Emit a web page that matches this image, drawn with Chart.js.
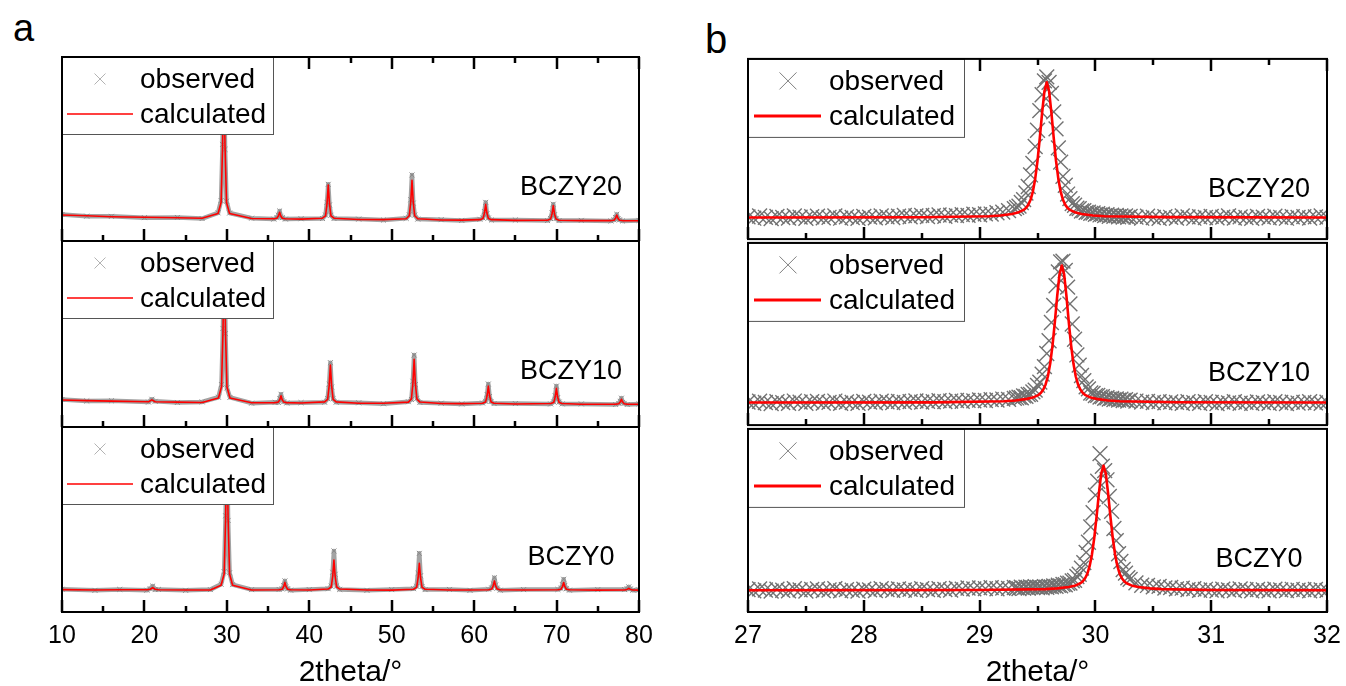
<!DOCTYPE html>
<html>
<head>
<meta charset="utf-8">
<script src="https://cdn.jsdelivr.net/npm/chart.js@4.4.1/dist/chart.umd.min.js"></script>
<style>
  html, body { margin: 0; padding: 0; background: #fff; overflow: hidden; width: 1346px; height: 686px; }
  canvas { position: absolute; }
  .tag { position: absolute; font-family: 'Liberation Sans', Arial, sans-serif; color: #000; line-height: 1; }
</style>
</head>
<body>
<div class="tag" style="left:13px; top:9px; font-size:38px;">a</div>
<div class="tag" style="left:705px; top:19px; font-size:40px;">b</div>
<canvas id="a20"></canvas>
<canvas id="a10"></canvas>
<canvas id="a0"></canvas>
<canvas id="b20"></canvas>
<canvas id="b10"></canvas>
<canvas id="b0"></canvas>
<script>
// axis ticks
const ticksA = [10, 20, 30, 40, 50, 60, 70, 80];
const minorA = [15, 25, 35, 45, 55, 65, 75];
const ticksB = [27, 28, 29, 30, 31, 32];
const minorB = [27.5, 28.5, 29.5, 30.5, 31.5];
const sampleNames = ['BCZY20', 'BCZY10', 'BCZY0'];

// panel a: full scans, intensity in % of each sub-plot height
const a20X = [10, 13, 16, 20, 24, 27, 28.93, 29.30, 29.48, 29.63, 29.78, 29.96, 30.33, 33, 35.7, 36.07, 36.25, 36.4, 36.55, 36.73, 37.1, 39, 41.6, 41.97, 42.15, 42.3, 42.45, 42.63, 43.0, 46, 49, 51.76, 52.13, 52.31, 52.46, 52.61, 52.79, 53.16, 56, 58.5, 60.7, 61.07, 61.25, 61.4, 61.55, 61.73, 62.1, 65, 68.9, 69.27, 69.45, 69.6, 69.75, 69.93, 70.3, 73, 76.6, 76.97, 77.15, 77.3, 77.45, 77.63, 78.0, 80];
const a20Calc = [14.1, 13.7, 13.2, 12.9, 12.6, 12.4, 14.9, 20.9, 50.9, 98, 50.9, 20.9, 14.9, 12.2, 12.1, 12.4, 13.6, 15.6, 13.6, 12.4, 12.1, 11.9, 12.4, 13.7, 20.2, 30.4, 20.2, 13.7, 12.4, 11.7, 11.6, 12.1, 13.7, 21.2, 33.0, 21.2, 13.7, 12.1, 11.4, 11.35, 11.6, 12.2, 15.2, 19.9, 15.2, 12.2, 11.6, 11.2, 11.3, 11.9, 14.7, 19.2, 14.7, 11.9, 11.3, 11.05, 11.1, 11.3, 12.4, 14.1, 12.4, 11.3, 11.1, 11.0];
const a20Obs = [14.4, 13.5, 13.4, 12.7, 12.8, 12.2, 15.3, 22.0, 52.5, 99, 49.8, 21.6, 15.2, 12.4, 11.9, 12.8, 14.0, 16.3, 13.2, 12.7, 11.9, 12.1, 12.2, 14.1, 21.0, 30.8, 19.6, 14.0, 12.2, 11.9, 11.4, 12.3, 14.2, 22.4, 35.9, 20.6, 14.1, 11.9, 11.6, 11.2, 11.8, 12.5, 16.0, 21.0, 14.8, 12.5, 11.4, 11.4, 11.1, 12.2, 15.3, 20.0, 14.3, 12.2, 11.1, 11.2, 10.9, 11.5, 12.8, 14.5, 12.1, 11.5, 10.9, 11.2];

const a10X = [10, 13, 16, 20.5, 20.9, 21.3, 24, 27, 28.98, 29.35, 29.53, 29.68, 29.83, 30.01, 30.38, 33, 35.87, 36.24, 36.42, 36.57, 36.72, 36.90, 37.27, 39, 41.86, 42.23, 42.41, 42.56, 42.71, 42.89, 43.26, 46, 49, 52.02, 52.39, 52.57, 52.72, 52.87, 53.05, 53.42, 56, 58.5, 61.02, 61.39, 61.57, 61.72, 61.87, 62.05, 62.42, 65, 69.28, 69.65, 69.83, 69.98, 70.13, 70.31, 70.68, 73, 77.17, 77.54, 77.72, 77.87, 78.02, 78.20, 78.57, 80];
const a10Calc = [14.5, 14.2, 13.9, 13.6, 14.6, 13.6, 13.4, 13.2, 15.6, 21.6, 51.3, 98, 51.3, 21.6, 15.6, 13.05, 13.1, 13.4, 14.7, 16.8, 14.7, 13.4, 13.1, 12.9, 13.5, 14.9, 22.1, 33.3, 22.1, 14.9, 13.5, 12.8, 12.75, 13.4, 15.1, 23.4, 36.4, 23.4, 15.1, 13.4, 12.6, 12.55, 12.8, 13.5, 16.8, 22.0, 16.8, 13.5, 12.8, 12.4, 12.6, 13.2, 16.1, 20.8, 16.1, 13.2, 12.6, 12.25, 12.3, 12.5, 13.4, 14.9, 13.4, 12.5, 12.3, 12.2];
const a10Obs = [14.8, 14.0, 14.1, 13.4, 14.9, 13.8, 13.2, 13.5, 16.0, 22.8, 53.0, 99, 50.2, 21.0, 15.9, 12.8, 13.3, 13.2, 15.2, 17.6, 14.4, 13.6, 12.9, 13.1, 13.3, 15.3, 23.0, 34.6, 21.5, 15.2, 13.3, 13.0, 12.5, 13.6, 14.8, 24.6, 38.7, 22.8, 15.4, 13.2, 12.8, 12.4, 12.9, 13.8, 17.5, 23.1, 16.4, 13.7, 12.6, 12.6, 12.4, 13.5, 16.8, 22.0, 15.8, 13.4, 12.4, 12.4, 12.1, 12.7, 13.8, 15.5, 13.2, 12.7, 12.1, 12.4];

const a0X = [10, 14, 17, 20.3, 20.7, 21.0, 21.3, 21.7, 25, 28, 29.30, 29.67, 29.85, 30.00, 30.15, 30.33, 30.70, 33, 36.34, 36.71, 36.89, 37.04, 37.19, 37.37, 37.74, 40, 42.29, 42.66, 42.84, 42.99, 43.14, 43.32, 43.69, 47, 50, 52.65, 53.02, 53.20, 53.35, 53.50, 53.68, 54.05, 57, 59.5, 61.76, 62.13, 62.31, 62.46, 62.61, 62.79, 63.16, 66, 70.16, 70.53, 70.71, 70.86, 71.01, 71.19, 71.56, 75, 78.26, 78.56, 78.76, 78.96, 79.26, 80];
const a0Calc = [12.1, 11.9, 12.0, 12.0, 12.3, 13.1, 12.3, 12.0, 11.9, 11.9, 14.5, 20.5, 50.6, 98, 50.6, 20.5, 14.5, 11.9, 12.0, 12.3, 13.7, 16.0, 13.7, 12.3, 12.0, 11.9, 12.4, 13.5, 19.2, 28.1, 19.2, 13.5, 12.4, 11.9, 11.85, 12.3, 13.3, 18.4, 26.3, 18.4, 13.3, 12.3, 11.9, 11.9, 12.0, 12.4, 14.1, 16.8, 14.1, 12.4, 12.0, 11.9, 12.0, 12.3, 13.7, 15.9, 13.7, 12.3, 12.0, 11.85, 11.9, 12.2, 12.8, 12.2, 11.9, 11.8];
const a0Obs = [12.3, 11.7, 12.2, 11.8, 12.6, 14.0, 12.1, 12.2, 11.7, 12.1, 15.0, 21.8, 52.0, 99, 49.5, 21.2, 14.8, 12.1, 12.2, 12.5, 14.3, 16.8, 13.4, 12.6, 11.8, 12.1, 12.6, 14.0, 21.5, 33.0, 20.4, 14.1, 12.2, 11.7, 12.1, 12.6, 13.9, 20.9, 31.7, 19.6, 13.8, 12.1, 12.2, 11.7, 12.3, 13.0, 15.3, 18.5, 14.6, 12.9, 11.8, 12.1, 12.2, 12.8, 14.8, 17.7, 14.4, 12.6, 11.8, 12.1, 12.1, 12.6, 13.6, 12.5, 11.8, 12.0];

// panel b: (110) peak region, observed points
const bObsX = [27.00, 27.05, 27.10, 27.15, 27.20, 27.25, 27.30, 27.35, 27.40, 27.45, 27.50, 27.55, 27.60, 27.65, 27.70, 27.75, 27.80, 27.85, 27.90, 27.95, 28.00, 28.05, 28.10, 28.15, 28.20, 28.25, 28.30, 28.35, 28.40, 28.45, 28.50, 28.55, 28.60, 28.65, 28.70, 28.75, 28.80, 28.85, 28.90, 28.95, 29.00, 29.05, 29.10, 29.15, 29.20, 29.25, 29.30,
  29.32, 29.34, 29.36, 29.38, 29.40, 29.42, 29.44, 29.46, 29.48, 29.50, 29.52, 29.54, 29.56, 29.58, 29.60, 29.62, 29.64, 29.66, 29.68, 29.70, 29.72, 29.74, 29.76, 29.78, 29.80, 29.82, 29.84, 29.86, 29.88, 29.90, 29.92, 29.94, 29.96, 29.98, 30.00, 30.02, 30.04, 30.06, 30.08, 30.10, 30.12, 30.14, 30.16, 30.18, 30.20, 30.22, 30.24, 30.26, 30.28, 30.30,
  30.35, 30.40, 30.45, 30.50, 30.55, 30.60, 30.65, 30.70, 30.75, 30.80, 30.85, 30.90, 30.95, 31.00, 31.05, 31.10, 31.15, 31.20, 31.25, 31.30, 31.35, 31.40, 31.45, 31.50, 31.55, 31.60, 31.65, 31.70, 31.75, 31.80, 31.85, 31.90, 31.95, 32.00];
const b20Obs = [12.3, 11.6, 12.8, 12.1, 11.4, 12.6, 12.0, 11.7, 12.9, 12.2, 11.5, 12.4, 12.7, 11.8, 12.1, 12.9, 11.6, 12.3, 12.0, 11.5, 12.6, 12.2, 11.8, 12.8, 12.4, 11.9, 12.7, 13.1, 12.3, 12.9, 13.2, 12.5, 13.0, 13.4, 12.7, 13.3, 13.0, 13.6, 13.2, 13.8, 13.5, 14.0, 13.9, 14.6, 15.0, 15.8, 16.9,
  17.6, 18.3, 20.3, 21.9, 25.6, 29.2, 35.6, 42.0, 51.4, 60.4, 71.3, 80.1, 87.8, 90.0, 87.0, 80.9, 70.6, 61.2, 50.6, 42.7, 34.8, 29.9, 25.0, 22.5, 19.7, 18.8, 17.1, 16.9, 15.6, 15.8, 14.8, 15.0, 14.3, 14.5, 13.7, 14.1, 13.4, 13.8, 13.0, 13.5, 12.7, 13.3, 12.6, 13.1, 12.4, 12.9, 12.2, 12.8, 12.1, 12.6,
  12.2, 11.6, 12.7, 12.0, 11.5, 12.5, 12.1, 11.7, 12.8, 12.3, 11.6, 12.4, 12.0, 12.6, 11.8, 12.2, 12.9, 11.7, 12.3, 12.0, 11.5, 12.6, 12.2, 11.8, 12.7, 12.1, 11.6, 12.4, 12.0, 12.5, 11.7, 12.3, 12.8, 12.1];
const b10Obs = [12.7, 12.0, 13.1, 12.4, 11.8, 12.9, 12.3, 12.0, 13.2, 12.6, 11.9, 12.8, 13.0, 12.1, 12.5, 13.2, 12.0, 12.7, 12.4, 11.9, 13.0, 12.6, 12.2, 13.1, 12.8, 12.3, 13.0, 12.5, 12.9, 13.3, 12.6, 13.1, 12.8, 13.4, 12.9, 13.2, 13.5, 13.0, 13.6, 13.3, 13.8, 13.5, 14.0, 13.8, 14.3, 14.1, 14.7,
  14.9, 15.3, 15.0, 16.0, 15.8, 16.8, 16.9, 18.2, 19.2, 21.8, 23.6, 28.0, 32.1, 39.3, 46.3, 56.3, 65.7, 76.5, 84.1, 89.6, 90.0, 84.9, 75.7, 66.5, 55.5, 47.1, 38.5, 32.9, 27.2, 24.4, 21.0, 19.9, 17.6, 17.4, 16.2, 16.3, 15.4, 15.6, 14.7, 15.0, 14.3, 14.7, 14.0, 14.4, 13.7, 14.2, 13.5, 13.9, 13.2, 13.7,
  13.2, 12.6, 13.0, 12.4, 12.9, 12.2, 12.7, 12.5, 11.9, 12.8, 12.3, 12.0, 12.9, 12.4, 11.8, 12.6, 12.2, 12.8, 12.0, 12.5, 11.9, 12.7, 12.3, 12.0, 12.8, 12.4, 11.8, 12.6, 12.1, 12.5, 12.9, 12.2, 11.9, 12.6];
const b0Obs = [12.2, 11.5, 12.6, 12.0, 11.4, 12.5, 11.9, 11.6, 12.7, 12.1, 11.4, 12.3, 12.6, 11.7, 12.0, 12.8, 11.5, 12.2, 11.9, 11.4, 12.5, 12.1, 11.7, 12.7, 12.3, 11.8, 12.6, 12.0, 12.4, 11.8, 12.7, 12.2, 11.9, 12.8, 12.3, 12.0, 12.9, 12.5, 13.1, 12.6, 13.2, 12.8, 13.3, 12.7, 13.1, 12.9, 13.4,
  13.2, 12.8, 13.5, 13.0, 13.6, 13.1, 13.7, 13.3, 13.9, 13.4, 13.6, 13.2, 13.9, 13.5, 14.0, 13.7, 14.3, 14.0, 14.6, 14.3, 15.0, 14.9, 15.7, 15.8, 17.0, 17.3, 19.4, 20.6, 24.0, 27.0, 32.6, 38.1, 46.4, 54.2, 63.8, 71.4, 86.5, 79.6, 77.2, 72.2, 63.1, 55.0, 45.6, 38.9, 31.8, 27.6, 23.2, 21.2, 18.7, 17.8,
  15.9, 14.6, 14.5, 13.7, 14.0, 13.1, 13.4, 12.6, 13.0, 12.2, 12.7, 11.9, 12.4, 12.0, 11.6, 12.5, 12.1, 11.7, 12.6, 12.2, 11.5, 12.3, 12.0, 11.6, 12.5, 12.1, 11.7, 12.4, 11.9, 12.2, 11.6, 12.3, 12.0, 11.8];

// panel b: calculated profiles
const b20CalcX = [27, 28.5, 29.08, 29.18, 29.28, 29.33, 29.38, 29.40, 29.42, 29.44, 29.46, 29.48, 29.50, 29.52, 29.54, 29.56, 29.58, 29.60, 29.62, 29.64, 29.66, 29.68, 29.70, 29.72, 29.74, 29.76, 29.78, 29.83, 29.88, 29.98, 30.08, 30.6, 32];
const b20Calc = [12.0, 12.1, 12.7, 13.1, 13.9, 14.7, 16.2, 17.3, 19.0, 21.8, 26.4, 33.4, 43.4, 56.2, 70.2, 82.1, 87.0, 82.1, 70.2, 56.2, 43.4, 33.4, 26.4, 21.8, 19.0, 17.3, 16.2, 14.7, 13.9, 13.1, 12.7, 12.2, 12.0];
const b10CalcX = [27, 28.6, 29.21, 29.31, 29.41, 29.46, 29.51, 29.53, 29.55, 29.57, 29.59, 29.61, 29.63, 29.65, 29.67, 29.69, 29.71, 29.73, 29.75, 29.77, 29.79, 29.81, 29.83, 29.85, 29.87, 29.89, 29.91, 29.96, 30.01, 30.11, 30.21, 30.7, 32];
const b10Calc = [12.4, 12.5, 13.1, 13.5, 14.4, 15.1, 16.6, 17.7, 19.5, 22.3, 26.8, 33.9, 43.9, 56.7, 70.8, 82.7, 87.6, 82.7, 70.8, 56.7, 43.9, 33.9, 26.8, 22.3, 19.5, 17.7, 16.6, 15.1, 14.4, 13.5, 13.1, 12.5, 12.4];
const b0CalcX = [27, 29.0, 29.57, 29.67, 29.77, 29.82, 29.87, 29.89, 29.91, 29.93, 29.95, 29.97, 29.99, 30.01, 30.03, 30.05, 30.07, 30.09, 30.11, 30.13, 30.15, 30.17, 30.19, 30.21, 30.23, 30.25, 30.27, 30.32, 30.37, 30.47, 30.57, 31, 32];
const b0Calc = [11.9, 12.0, 12.5, 12.9, 13.7, 14.3, 15.7, 16.7, 18.3, 20.8, 25.0, 31.3, 40.4, 52.0, 64.7, 75.5, 79.9, 75.5, 64.7, 52.0, 40.4, 31.3, 25.0, 20.8, 18.3, 16.7, 15.7, 14.3, 13.7, 12.9, 12.5, 12.0, 11.9];

const FONT = "'Liberation Sans', Arial, sans-serif";
Chart.defaults.font.family = FONT;
Chart.defaults.color = '#000';

function toPoints(xs, ys) {
  return xs.map((x, i) => ({ x: x, y: ys[i] }));
}

// legend box and sample name, drawn over the data
function legendPlugin(name, lg) {
  return {
    id: 'insetLegend',
    afterDatasetsDraw(chart) {
      const ctx = chart.ctx;
      const a = chart.chartArea;
      ctx.save();
      ctx.fillStyle = '#000';
      ctx.font = '27px ' + FONT;
      ctx.textAlign = 'center';
      ctx.textBaseline = 'alphabetic';
      ctx.fillText(name, a.left + lg.labelDx, a.top + 138);

      ctx.fillStyle = '#fff';
      ctx.fillRect(a.left, a.top, lg.boxW, lg.boxH);
      ctx.strokeStyle = '#555';
      ctx.lineWidth = 1;
      ctx.strokeRect(a.left + 0.5, a.top + 0.5, lg.boxW, lg.boxH);

      const mx = a.left + lg.markX, my = a.top + 22, s = lg.markS;
      ctx.strokeStyle = lg.markColor;
      ctx.beginPath();
      ctx.moveTo(mx - s, my - s); ctx.lineTo(mx + s, my + s);
      ctx.moveTo(mx + s, my - s); ctx.lineTo(mx - s, my + s);
      ctx.stroke();

      ctx.strokeStyle = '#ff0000';
      ctx.lineWidth = lg.lineW;
      ctx.beginPath();
      ctx.moveTo(a.left + lg.lineX0, a.top + 57);
      ctx.lineTo(a.left + lg.lineX1, a.top + 57);
      ctx.stroke();

      ctx.fillStyle = '#000';
      ctx.font = '28px ' + FONT;
      ctx.textAlign = 'left';
      ctx.fillText('observed', a.left + lg.textX, a.top + 31);
      ctx.fillText('calculated', a.left + lg.textX, a.top + 66);
      ctx.restore();
    }
  };
}

// frame and inward tick marks, last thing drawn
function framePlugin(major, minor, topTicks, legendW) {
  return {
    id: 'plotFrame',
    afterDraw(chart) {
      const ctx = chart.ctx;
      const a = chart.chartArea;
      const sx = chart.scales.x;
      ctx.save();
      ctx.setLineDash([]);
      ctx.strokeStyle = '#000';
      ctx.lineWidth = 2.5;
      ctx.beginPath();
      major.forEach(v => {
        const px = Math.round(sx.getPixelForValue(v));
        ctx.moveTo(px, a.bottom);
        ctx.lineTo(px, a.bottom - 12);
        if (topTicks && px > a.left + legendW) {
          ctx.moveTo(px, a.top);
          ctx.lineTo(px, a.top + 12);
        }
      });
      minor.forEach(v => {
        const px = Math.round(sx.getPixelForValue(v));
        ctx.moveTo(px, a.bottom);
        ctx.lineTo(px, a.bottom - 6);
        if (topTicks && px > a.left + legendW) {
          ctx.moveTo(px, a.top);
          ctx.lineTo(px, a.top + 6);
        }
      });
      ctx.stroke();
      ctx.lineWidth = 2;
      ctx.strokeRect(a.left, a.top, a.right - a.left, a.bottom - a.top);
      ctx.restore();
    }
  };
}

const colA = { left: 22, width: 657, padL: 40, padR: 40, min: 10, max: 80, ticks: ticksA, minor: minorA, zoomed: false,
  legend: { boxW: 211, boxH: 77, markX: 38, markS: 5.5, markColor: '#b3b3b3', lineX0: 5, lineX1: 71, lineW: 1.3, textX: 78, labelDx: 509 } };
const colB = { left: 708, width: 660, padL: 40, padR: 41, min: 27, max: 32, ticks: ticksB, minor: minorB, zoomed: true,
  legend: { boxW: 216, boxH: 78, markX: 40, markS: 8.5, markColor: '#808080', lineX0: 6, lineX1: 73, lineW: 3, textX: 81, labelDx: 511 } };
const rows = [
  { top: 47, height: 204, padTop: 10, padBottom: 10, topTicks: true, axis: false },
  { top: 231, height: 206, padTop: 10, padBottom: 10, topTicks: false, axis: false },
  { top: 417, height: 280, padTop: 10, padBottom: 0, topTicks: false, axis: true }
];

function makeChart(id, col, row, name, obsPts, calcPts) {
  const canvas = document.getElementById(id);
  canvas.width = col.width;
  canvas.height = row.height;
  canvas.style.left = col.left + 'px';
  canvas.style.top = row.top + 'px';

  const obsSet = col.zoomed ? {
    label: 'observed', data: obsPts, showLine: false, pointStyle: 'crossRot',
    pointRadius: 10.5, pointBorderColor: '#727272', pointBackgroundColor: 'rgba(0,0,0,0)',
    pointBorderWidth: 1.4, clip: 0, order: 2
  } : {
    label: 'observed', data: obsPts, showLine: true, borderColor: '#a3a3a3', borderWidth: 4.5,
    borderJoinStyle: 'round', pointStyle: 'crossRot', pointRadius: 3.5, pointBorderColor: '#8a8a8a',
    pointBackgroundColor: 'rgba(0,0,0,0)', pointBorderWidth: 1, order: 2
  };
  const calcSet = {
    label: 'calculated', data: calcPts, showLine: true, borderColor: '#ff0000', borderJoinStyle: 'round',
    borderWidth: col.zoomed ? 2.6 : 1.6, pointRadius: 0, order: 1
  };

  return new Chart(canvas, {
    type: 'scatter',
    data: { datasets: [obsSet, calcSet] },
    options: {
      responsive: false,
      animation: false,
      events: [],
      layout: { padding: { left: col.padL, right: col.padR, top: row.padTop, bottom: row.padBottom } },
      plugins: {
        legend: { display: false },
        tooltip: { enabled: false }
      },
      scales: {
        x: {
          type: 'linear', display: row.axis, min: col.min, max: col.max,
          grid: { display: false, drawTicks: false },
          border: { display: false },
          afterBuildTicks: s => { s.ticks = col.ticks.map(v => ({ value: v })); },
          afterFit: s => { if (row.axis) s.height = 85; },
          ticks: { font: { size: 25 }, color: '#000', padding: 9, maxRotation: 0, autoSkip: false },
          title: { display: row.axis, text: '2theta/°', font: { size: 30 }, color: '#000', padding: { top: 0, bottom: 6 } }
        },
        y: { display: false, min: 0, max: 100 }
      }
    },
    plugins: [legendPlugin(name, col.legend), framePlugin(col.ticks, col.minor, row.topTicks, col.legend.boxW)]
  });
}

makeChart('a20', colA, rows[0], sampleNames[0], toPoints(a20X, a20Obs), toPoints(a20X, a20Calc));
makeChart('a10', colA, rows[1], sampleNames[1], toPoints(a10X, a10Obs), toPoints(a10X, a10Calc));
makeChart('a0', colA, rows[2], sampleNames[2], toPoints(a0X, a0Obs), toPoints(a0X, a0Calc));
makeChart('b20', colB, rows[0], sampleNames[0], toPoints(bObsX, b20Obs), toPoints(b20CalcX, b20Calc));
makeChart('b10', colB, rows[1], sampleNames[1], toPoints(bObsX, b10Obs), toPoints(b10CalcX, b10Calc));
makeChart('b0', colB, rows[2], sampleNames[2], toPoints(bObsX, b0Obs), toPoints(b0CalcX, b0Calc));
</script>
</body>
</html>
